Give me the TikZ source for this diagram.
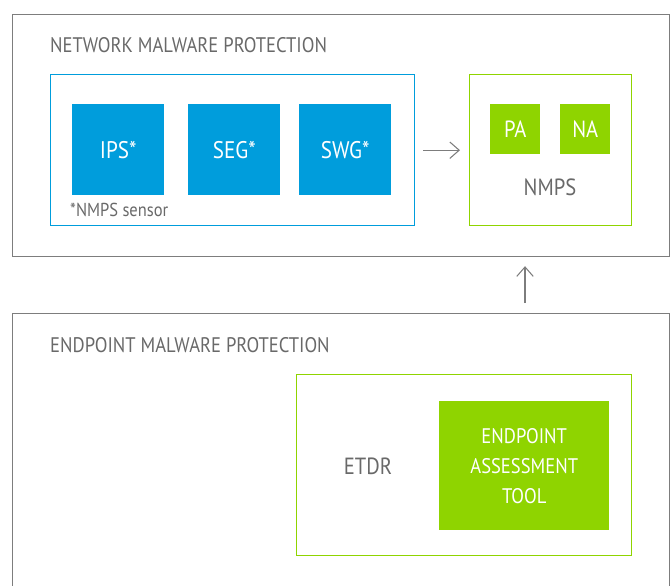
\documentclass[tikz,border=0pt]{standalone}
\usepackage{fontspec}
\setmainfont[FakeStretch=0.88]{PT Sans}
\usetikzlibrary{arrows.meta}

\definecolor{nmpblue}{RGB}{0,157,220}
\definecolor{nmpgreen}{RGB}{143,212,0}
\definecolor{framegray}{RGB}{125,125,125}
\definecolor{textgray}{RGB}{105,105,105}

\def\px{0.03cm}

\tikzset{
    panel/.style={draw=framegray, line width=1pt, anchor=north west, inner sep=0pt},
    bluebox/.style={draw=nmpblue, line width=1.2pt, anchor=north west, inner sep=0pt},
    greenbox/.style={draw=nmpgreen, line width=1.2pt, anchor=north west, inner sep=0pt},
    sensor/.style={fill=nmpblue, text=white, anchor=north west, inner sep=0pt,
        minimum width=92*\px, minimum height=91*\px, font=\fontsize{20.5}{22}\selectfont},
    agent/.style={fill=nmpgreen, text=white, anchor=north west, inner sep=0pt,
        minimum width=50*\px, minimum height=50*\px, font=\fontsize{20}{22}\selectfont},
    heading/.style={text=textgray, anchor=west, inner sep=0pt, font=\fontsize{18}{20}\selectfont},
    caption/.style={text=textgray, inner sep=0pt, font=\fontsize{20}{22}\selectfont},
    flow/.style={draw=framegray, line width=0.9pt, -{Straight Barb[length=8pt, width=14pt]}}
}

\begin{document}
\begin{tikzpicture}[x=0.03cm, y=-0.03cm]
    \useasboundingbox (0,0) rectangle (670,585);

    % Network malware protection (top panel)
    \node[panel, minimum width=657*\px, minimum height=242*\px] (net) at (12,14) {};
    \node[heading] (nettitle) at (50,45) {NETWORK MALWARE PROTECTION};

    % Sensor group with the three sensors
    \node[bluebox, minimum width=364*\px, minimum height=151*\px] (sens) at (50,74) {};
    \foreach \name/\x in {IPS/72, SEG/188, SWG/299} {
        \node[sensor] (\name) at (\x,104) {\name*};
    }
    \node[heading, font=\fontsize{16}{18}\selectfont] (note) at (70,210) {*NMPS sensor};

    % NMPS with its agents
    \node[greenbox, minimum width=162*\px, minimum height=151*\px] (nmps) at (469,74) {};
    \node[agent] (PA) at (490,104) {PA};
    \node[agent] (NA) at (560,104) {NA};
    \node[caption] (nmpslabel) at (550,187) {NMPS};

    % Endpoint malware protection (bottom panel, runs off the page)
    \node[panel, minimum width=657*\px, minimum height=300*\px] (emp) at (12,313) {};
    \node[heading] (emptitle) at (50,345) {ENDPOINT MALWARE PROTECTION};

    \node[greenbox, minimum width=335*\px, minimum height=181*\px] (etdr) at (296,374) {};
    \node[caption] (etdrlabel) at (368,466) {ETDR};
    \node[agent, align=center, minimum width=170*\px, minimum height=129*\px,
        font=\fontsize{18}{25.6}\selectfont] (eat) at (439,401) {ENDPOINT\\ASSESSMENT\\TOOL};

    % Connectors
    \coordinate (up) at (525,0);
    \draw[flow, shorten <=8*\px, shorten >=9*\px] (sens.east) -- (nmps.west);
    \draw[flow, shorten <=10*\px, shorten >=9*\px] (emp.north -| up) -- (net.south -| up);

\end{tikzpicture}
\end{document}
